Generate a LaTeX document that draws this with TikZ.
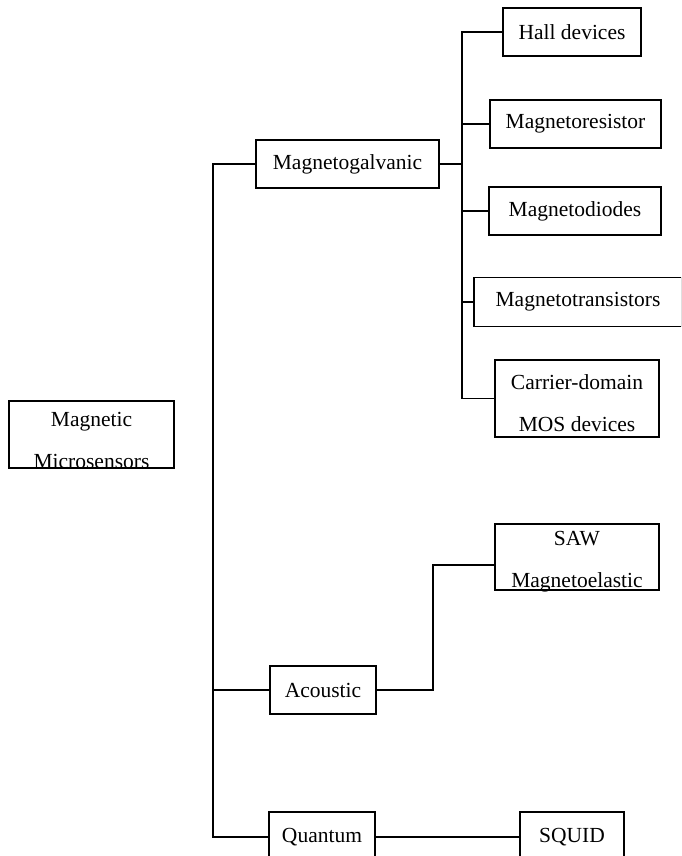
\documentclass[tikz,border=0pt]{standalone}
\usepackage{fontspec}
\setmainfont{Liberation Serif}
\begin{document}
\begin{tikzpicture}[x=1pt,y=-1pt,
  box/.style={draw, line width=1.2pt, inner sep=0pt, align=center,
    font=\fontsize{21.5}{41}\selectfont},
  txt/.style={inner sep=0pt, align=center, font=\fontsize{21.5}{42}\selectfont},
  conn/.style={line width=1.2pt}]
\useasboundingbox (0,0) rectangle (681,856);
\clip (0,0) rectangle (681,856);
\node[box, minimum width=165, minimum height=67] (mm) at (91.5,434.5) {};
\node[txt] (mmt) at (91.5,440) {Magnetic\\Microsensors};
\node[box, minimum width=183, minimum height=48] (mg) at (347.5,164) {Magnetogalvanic};
\node[box, minimum width=138, minimum height=48] (hall) at (572,32) {Hall devices};
\node[box, minimum width=171, minimum height=48] (mr) at (575.5,124) {Magnetoresistor};
\node[box, minimum width=172, minimum height=48] (md) at (575,211) {Magnetodiodes};
\node[box, minimum width=208, minimum height=49] (mt) at (578,302) {Magnetotransistors};
\node[box, minimum width=164, minimum height=77] (cd) at (577,398.5) {};
\node[txt] (cdt) at (577,403) {Carrier-domain\\MOS devices};
\node[box, minimum width=164, minimum height=66] (saw) at (577,557) {};
\node[txt] (sawt) at (577,562) {SAW\\Magnetoelastic};
\node[box, minimum width=106, minimum height=48] (ac) at (323,690) {Acoustic};
\node[box, minimum width=106, minimum height=50] (qu) at (322,837) {Quantum};
\node[box, minimum width=104, minimum height=50] (sq) at (572,837) {SQUID};
\coordinate (tk) at (213,500);
\coordinate (br) at (462,200);
\coordinate (sb) at (433,620);
\draw[conn] (mg.west) -| (tk) |- (qu.west);
\draw[conn] (ac.west) -- (ac.west -| tk);
\draw[conn] (mg.east) -- (mg.east -| br);
\draw[conn] (hall.west) -| (br) |- (cd.west);
\draw[conn] (mr.west) -- (mr.west -| br);
\draw[conn] (md.west) -- (md.west -| br);
\draw[conn] (mt.west) -- (mt.west -| br);
\draw[conn] (ac.east) -| (sb) |- ([yshift=-8pt]saw.west);
\draw[conn] (qu.east) -- (sq.west);
\end{tikzpicture}
\end{document}
